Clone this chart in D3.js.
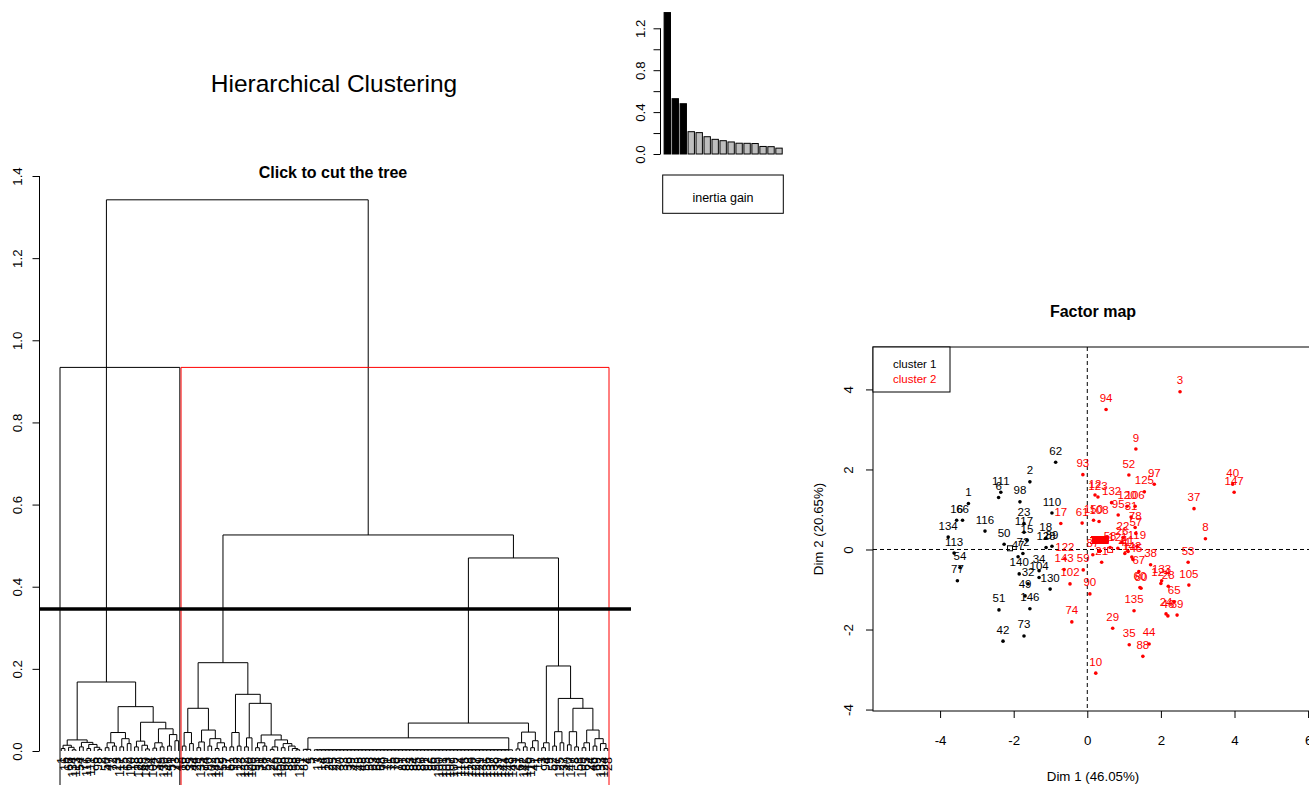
<!DOCTYPE html>
<html><head><meta charset="utf-8">
<script src="https://cdn.jsdelivr.net/npm/d3@7"></script>
<style>
body{margin:0;background:#fff;}
svg{display:block;font-family:"Liberation Sans",Arial,sans-serif;}
</style>
</head><body>
<svg id="chart" width="1309" height="785"></svg>
<script>
// ---------------- DATA ----------------
// inertia gain barplot (top 15 merge heights)
const inertiaGain = [1.35, 0.528, 0.48, 0.213, 0.204, 0.165, 0.140, 0.127, 0.115, 0.103, 0.102, 0.100, 0.072, 0.070, 0.056];
const gainTicks = [0, 0.2, 0.4, 0.6, 0.8, 1.0, 1.2];
const gainTickLabels = ["0.0", "", "0.4", "", "0.8", "", "1.2"];

// dendrogram: node = [height, child, child, ...] (extra children = successive merges at same height), leaf = individual
const clusterOneTree = [0.168,
  [0.027, [0.014, [0.006, 1, 16], [0.009, 66, [0.003, 134, 113]]],
          [0.021, [0.01, 54, 77], [0.016, [0.006, 116, 111], [0.009, 6, [0.004, 98, 2]]]]],
  [0.108,
    [0.045, [0.02, [0.008, 50, 47], [0.012, 72, 23]], [0.03, [0.01, 117, 15], [0.018, 62, 110]]],
    [0.070, [0.024, [0.01, 18, 128], [0.014, 89, [0.005, 140, 34]]],
            [0.054, [0.02, [0.007, 104, 32], [0.01, 49, 130]], [0.04, [0.012, 146, 51], [0.025, 73, 42]]]]]];
const clusterTwoLeftTree = [0.215,
  [0.104, [0.045, [0.012, 10, 88], [0.018, 35, 44]],
          [0.051, [0.022, [0.008, 29, 135], 74], [0.03, [0.012, 90, 102], [0.02, [0.006, 143, 122], [0.01, 59, 17]]]]],
  [0.138, [0.045, [0.01, 61, 93], [0.012, 12, 123]],
          [0.116, [0.032, [0.01, 132, 120], 106],
                  [0.039, [0.02, [0.008, 95, 31], [0.012, 78, 57]],
                          [0.027, [0.01, [0.004, 22, 26], 150], [0.018, [0.008, 108, 60], [0.012, 80, [0.006, 38, [0.003, 58, 121]]]]]]]]];
const duplicateHead = [87, 4, 5];
const dupLabels = [7,13,14,19,20,25,27,30,33,36,39,43,45,48,55,56,63,64,68,70,71,75,76,79,81,82,83,84,85,86,91,92,96,99,100,101,103,107,109,112,114,115,118,126,127,129,131,136,137,138,139,141,144,148,149];
const duplicateHeights = [0.032, 0.004, 0.003];
const clusterTwoSmallTree = [0.046, [0.02, [0.005, 21, 67], [0.01, 142, 145]], [0.025, [0.008, 119, 41], 11]];
const clusterTwoRightTree = [0.207, [0.02, [0.008, 3, 94], 9],
  [0.128, [0.047, [0.012, 52, 97], [0.02, 125, 37]],
          [0.104, [0.047, [0.015, 40, 147], [0.01, 8, 53]],
                  [0.051, [0.02, [0.008, 105, 65], 24], [0.03, [0.012, 46, 69], [0.018, 133, [0.006, 124, 28]]]]]]];
const upperHeights = {root: 1.342, clusterTwo: 0.526, clusterTwoRight: 0.470, clusterTwoMid: 0.068};
const cutHeight = 0.346;
const rectHeight = 0.934;
const clusterOneSize = 33, nLeaves = 150;
const dendroTicks = [0, 0.2, 0.4, 0.6, 0.8, 1.0, 1.2, 1.4];

// factor map points
const mapLabels = [62,2,111,6,98,1,16,66,134,113,54,77,116,50,47,72,23,117,15,110,18,128,89,140,34,104,32,49,130,146,51,73,42,
  3,94,9,52,97,125,93,12,123,132,120,106,95,31,78,57,37,40,147,8,17,61,150,108,22,26,122,143,102,59,90,74,29,135,35,44,88,10,60,80,133,124,28,65,24,46,69,38,53,105,67,142,145,21,87,58,121,119,41,11];
const mapDim1 = [-0.86,-1.56,-2.35,-2.41,-1.83,-3.23,-3.55,-3.39,-3.78,-3.62,-3.46,-3.53,-2.78,-2.26,-1.88,-1.75,-1.72,-1.72,-1.64,-0.96,-1.13,-1.12,-0.96,-1.85,-1.31,-1.31,-1.61,-1.69,-1.01,-1.56,-2.40,-1.72,-2.29,
  2.52,0.51,1.32,1.13,1.82,1.55,-0.12,0.21,0.29,0.66,1.08,1.30,0.84,1.19,1.30,1.32,2.90,3.95,3.99,3.21,-0.72,-0.14,0.17,0.32,0.97,0.94,-0.61,-0.63,-0.47,-0.11,0.07,-0.42,0.69,1.27,1.14,1.68,1.51,0.23,1.43,1.46,2.02,2.00,2.20,2.36,2.14,2.19,2.44,1.72,2.74,2.76,1.40,1.21,1.24,0.39,0.15,0.62,0.83,1.35,1.02,1.11];
const mapDim2 = [2.18,1.69,1.43,1.30,1.19,1.15,0.73,0.73,0.31,-0.09,-0.45,-0.78,0.46,0.13,-0.18,-0.10,0.65,0.43,0.23,0.91,0.28,0.05,0.08,-0.61,-0.53,-0.70,-0.86,-1.16,-0.99,-1.48,-1.51,-2.16,-2.29,
  3.94,3.50,2.51,1.86,1.63,1.44,1.87,1.36,1.31,1.17,1.08,1.08,0.86,0.81,0.55,0.40,1.02,1.63,1.43,0.27,0.65,0.66,0.73,0.70,0.30,0.18,-0.23,-0.50,-0.86,-0.51,-1.11,-1.81,-1.97,-1.53,-2.38,-2.36,-2.67,-3.09,-0.95,-0.97,-0.78,-0.85,-0.92,-1.31,-1.61,-1.66,-1.64,-0.38,-0.32,-0.89,-0.55,-0.19,-0.25,-0.32,-0.13,0.05,0.03,0.08,-0.10,-0.05];
const mapClusterOneCount = 33;
const dupPoint = [0.33, -0.04];
const centerDim1 = [-2.10, 0.62];
const centerDim2 = [0.03, -0.01];
const clusterNames = ["cluster 1", "cluster 2"];
const clusterColors = ["#000000", "#FF0000"];
const mapTicks = [-4, -2, 0, 2, 4, 6];
const mapYTicks = [-4, -2, 0, 2, 4];

// ---------------- DRAW ----------------
const svg = d3.select("#chart");
const FONT = "Liberation Sans, Arial, sans-serif";

// Titles
svg.append("text").attr("x", 334).attr("y", 92).attr("text-anchor", "middle")
  .attr("font-size", 24.5).text("Hierarchical Clustering");

// ---- inertia gain barplot ----
const gx = d3.scaleBand().domain(d3.range(inertiaGain.length)).range([663.3, 783]).paddingInner(0.2).paddingOuter(0.1);
const gy = d3.scaleLinear().domain([0, 1.2]).range([154, 28.3]);
svg.append("g").selectAll("rect").data(inertiaGain).join("rect")
  .attr("x", (d, i) => gx(i)).attr("width", gx.bandwidth())
  .attr("y", d => gy(d)).attr("height", d => gy(0) - gy(d))
  .attr("fill", (d, i) => i < 3 ? "#000" : "#BEBEBE").attr("stroke", "#000").attr("stroke-width", 1);
const gAxis = svg.append("g").attr("transform", "translate(660.5,0)")
  .call(d3.axisLeft(gy).tickValues(gainTicks).tickSize(7).tickFormat((d, i) => gainTickLabels[i]));
gAxis.select(".domain").attr("d", `M0,${gy(0)}V${gy(1.2)}`);
gAxis.selectAll("text").attr("font-size", 13.3).attr("font-family", FONT).attr("text-anchor", "middle")
  .attr("x", 0).attr("y", 0).attr("dy", 0).attr("dominant-baseline", "central")
  .attr("transform", "translate(-20.5,0) rotate(-90)");
svg.append("rect").attr("x", 662.7).attr("y", 175).attr("width", 120.6).attr("height", 38.3)
  .attr("fill", "none").attr("stroke", "#000");
svg.append("text").attr("x", 723).attr("y", 201.5).attr("text-anchor", "middle").attr("font-size", 12.5).text("inertia gain");

// ---- dendrogram ----
const leafX = d3.scaleLinear().domain([0.66, nLeaves + 0.33]).range([60, 609]);
const hY = d3.scaleLinear().domain([0, 1.4]).range([751, 176]);
const segs = [], leaves = [];
let leafIdx = 0;
function build(n) {
  if (typeof n === "number") { leafIdx++; const o = {x: leafX(leafIdx), h: 0, label: n}; leaves.push(o); return o; }
  const h = n[0];
  const kids = n.slice(1).map(build);
  let cur = kids[0];
  for (let k = 1; k < kids.length; k++) {
    const c = kids[k];
    segs.push({x1: cur.x, h1: cur.h, x2: c.x, h2: c.h, h});
    cur = {x: (cur.x + c.x) / 2, h};
  }
  return cur;
}
const dupTree = [duplicateHeights[0], [duplicateHeights[1], ...duplicateHead], [duplicateHeights[2], ...dupLabels]];
const fullTree = [upperHeights.root, clusterOneTree,
  [upperHeights.clusterTwo, clusterTwoLeftTree,
    [upperHeights.clusterTwoRight, [upperHeights.clusterTwoMid, dupTree, clusterTwoSmallTree], clusterTwoRightTree]]];
build(fullTree);

const dg = svg.append("g");
dg.selectAll("path.seg").data(segs).join("path").attr("class", "seg")
  .attr("d", s => `M${s.x1},${hY(s.h1)}V${hY(s.h)}H${s.x2}V${hY(s.h2)}`)
  .attr("fill", "none").attr("stroke", "#000").attr("stroke-width", 1);
dg.selectAll("text.leaf").data(leaves).join("text").attr("class", "leaf")
  .attr("transform", d => `translate(${d.x},757) rotate(-90)`)
  .attr("text-anchor", "end").attr("dy", "0.35em").attr("font-size", 12.5).text(d => d.label);

// rect.hclust style cluster boxes
const boxTop = hY(rectHeight);
svg.append("path").attr("d", `M${leafX(0.66)},800V${boxTop}H${leafX(clusterOneSize + 0.33)}V800`)
  .attr("fill", "none").attr("stroke", clusterColors[0]);
svg.append("path").attr("d", `M${leafX(clusterOneSize + 0.66)},800V${boxTop}H${leafX(nLeaves + 0.33)}V800`)
  .attr("fill", "none").attr("stroke", clusterColors[1]);

// cut line
svg.append("line").attr("x1", 40).attr("x2", 631).attr("y1", hY(cutHeight)).attr("y2", hY(cutHeight))
  .attr("stroke", "#000").attr("stroke-width", 3.5);

// dendrogram y axis
const dAxis = svg.append("g").attr("transform", "translate(39.5,0)")
  .call(d3.axisLeft(hY).tickValues(dendroTicks).tickSize(7).tickFormat(d3.format(".1f")));
dAxis.select(".domain").attr("d", `M0,${hY(0)}V${hY(1.4)}`);
dAxis.selectAll("text").attr("font-size", 13.3).attr("font-family", FONT).attr("text-anchor", "middle")
  .attr("x", 0).attr("y", 0).attr("dy", 0).attr("dominant-baseline", "central")
  .attr("transform", "translate(-22.5,0) rotate(-90)");
svg.append("text").attr("x", 333).attr("y", 178).attr("text-anchor", "middle")
  .attr("font-size", 16).attr("font-weight", "bold").text("Click to cut the tree");

// ---- factor map ----
const mx = d3.scaleLinear().domain([-5.823, 6.133]).range([873, 1313]);
const my = d3.scaleLinear().domain([-4.036, 5.06]).range([711, 347]);
const fm = svg.append("g");
fm.append("line").attr("x1", 873).attr("x2", 1313).attr("y1", my(0)).attr("y2", my(0))
  .attr("stroke", "#000").attr("stroke-dasharray", "4,3");
fm.append("line").attr("x1", mx(0)).attr("x2", mx(0)).attr("y1", 347).attr("y2", 711)
  .attr("stroke", "#000").attr("stroke-dasharray", "4,3");

const pts = mapLabels.map((l, i) => ({label: l, x: mapDim1[i], y: mapDim2[i], c: i < mapClusterOneCount ? 0 : 1}));
dupLabels.concat(duplicateHead.slice(1)).forEach(l => pts.push({label: l, x: dupPoint[0], y: dupPoint[1], c: 1}));
fm.selectAll("circle.pt").data(pts).join("circle").attr("class", "pt")
  .attr("cx", d => mx(d.x)).attr("cy", d => my(d.y)).attr("r", 1.8).attr("fill", d => clusterColors[d.c]);
fm.selectAll("text.pl").data(pts).join("text").attr("class", "pl")
  .attr("x", d => mx(d.x)).attr("y", d => my(d.y) - 7.5).attr("text-anchor", "middle")
  .attr("font-size", 11.5).attr("fill", d => clusterColors[d.c]).text(d => d.label);
fm.selectAll("rect.ctr").data(centerDim1).join("rect").attr("class", "ctr")
  .attr("x", (d, i) => mx(d) - 2.5).attr("y", (d, i) => my(centerDim2[i]) - 2.5).attr("width", 5).attr("height", 5)
  .attr("fill", "none").attr("stroke", (d, i) => clusterColors[i]);

fm.append("rect").attr("x", 873).attr("y", 347).attr("width", 440).attr("height", 364)
  .attr("fill", "none").attr("stroke", "#000");
// axes
const fxAxis = fm.append("g").attr("transform", "translate(0,711)")
  .call(d3.axisBottom(mx).tickValues(mapTicks).tickSize(7).tickFormat(d => d < 0 ? "-" + Math.abs(d) : String(d)));
fxAxis.select(".domain").remove();
fxAxis.selectAll("text").attr("font-size", 13.3).attr("font-family", FONT).attr("y", 0).attr("dy", "34");
const fyAxis = fm.append("g").attr("transform", "translate(873,0)")
  .call(d3.axisLeft(my).tickValues(mapYTicks).tickSize(7).tickFormat(d => d < 0 ? "-" + Math.abs(d) : String(d)));
fyAxis.select(".domain").remove();
fyAxis.selectAll("text").attr("font-size", 13.3).attr("font-family", FONT).attr("text-anchor", "middle")
  .attr("dominant-baseline", "central").attr("x", 0).attr("dy", 0).attr("y", 0)
  .attr("transform", "translate(-25,0) rotate(-90)");

svg.append("text").attr("x", 1093).attr("y", 317).attr("text-anchor", "middle")
  .attr("font-size", 16).attr("font-weight", "bold").text("Factor map");
svg.append("text").attr("x", 1093).attr("y", 781).attr("text-anchor", "middle")
  .attr("font-size", 13.3).text("Dim 1 (46.05%)");
svg.append("text").attr("transform", "translate(818,529) rotate(-90)").attr("text-anchor", "middle")
  .attr("dy", "0.35em").attr("font-size", 13.3).text("Dim 2 (20.65%)");

// legend
fm.append("rect").attr("x", 873).attr("y", 347).attr("width", 77).attr("height", 45)
  .attr("fill", "#fff").attr("stroke", "#000");
fm.selectAll("text.lg").data(clusterNames).join("text").attr("class", "lg")
  .attr("x", 893).attr("y", (d, i) => 368 + i * 14.7).attr("font-size", 11.5)
  .attr("fill", (d, i) => clusterColors[i]).text(d => d);
</script>
</body></html>
